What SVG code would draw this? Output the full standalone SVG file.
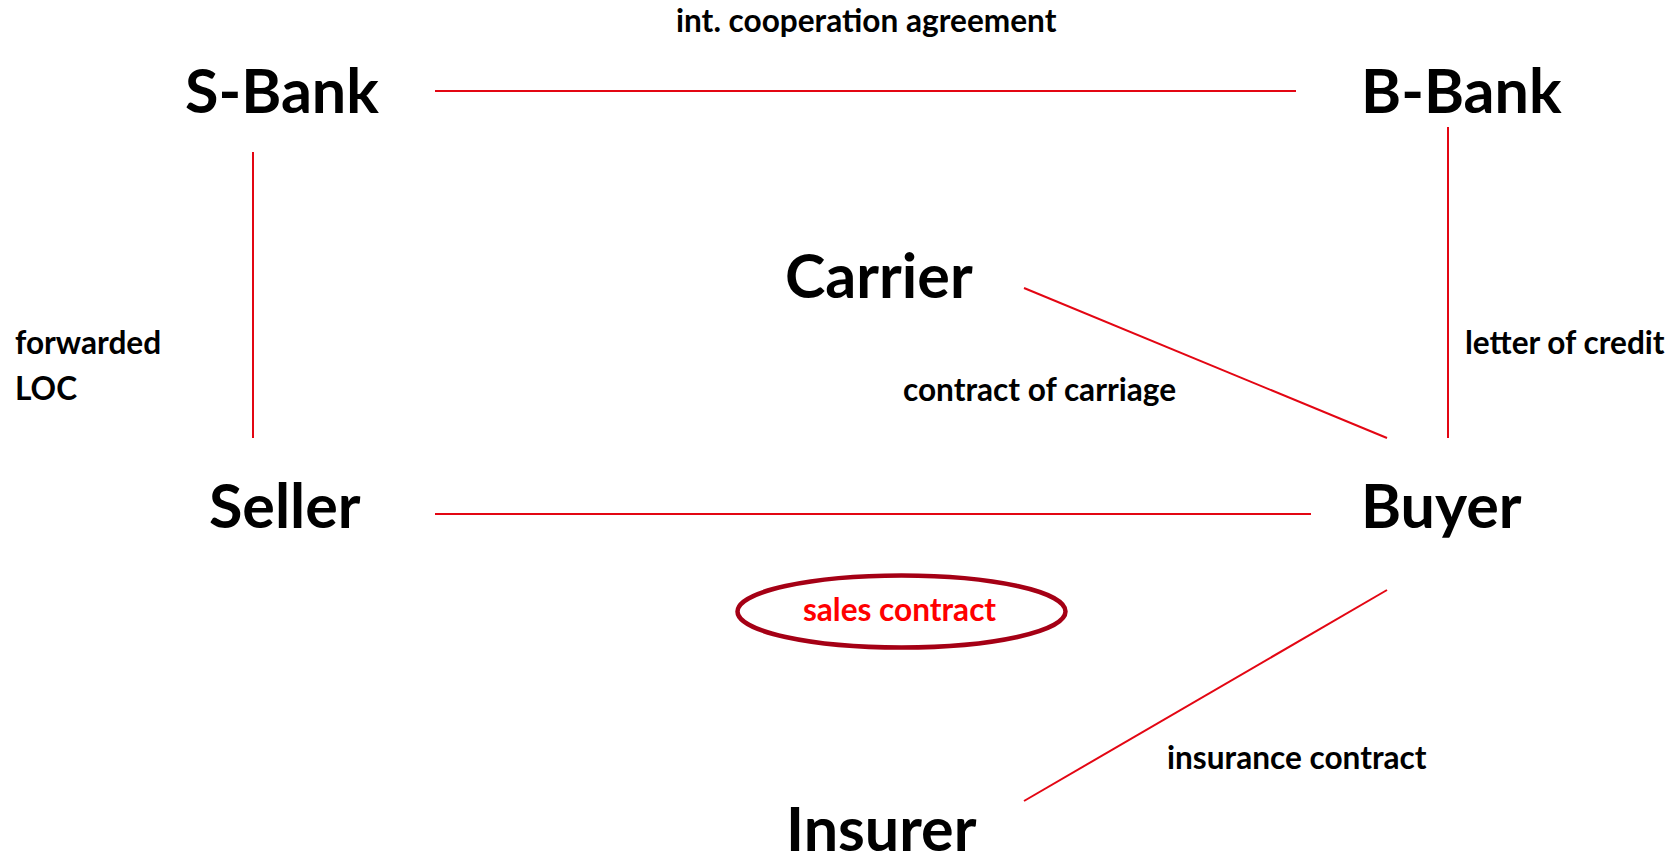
<svg xmlns="http://www.w3.org/2000/svg" width="1679" height="854" viewBox="0 0 1679 854">
<style>
.node{font-family:Lato,"Open Sans","Liberation Sans",sans-serif;font-weight:700;font-size:61px;fill:#000}
.lbl{font-family:Lato,"Open Sans","Liberation Sans",sans-serif;font-weight:700;font-size:31.6px;fill:#000}
.red{fill:#ff0000}
.conn line{stroke:#e30613;stroke-width:2;fill:none}
</style>
<rect width="1679" height="854" fill="#fff"/>
<g id="connectors" class="conn">
<line x1="435" y1="91" x2="1296" y2="91"/>
<line x1="253" y1="152" x2="253" y2="438"/>
<line x1="1448" y1="127" x2="1448" y2="438"/>
<line x1="1024" y1="288" x2="1387" y2="438"/>
<line x1="435" y1="514" x2="1311" y2="514"/>
<line x1="1387" y1="590" x2="1024" y2="801"/>
</g>
<g id="labels">
<text class="lbl" x="676" y="32">int. cooperation agreement</text>
<text class="lbl" x="15" y="354">forwarded</text>
<text class="lbl" x="15" y="400">LOC</text>
<text class="lbl" x="1465" y="354">letter of credit</text>
<text class="lbl" x="903" y="401">contract of carriage</text>
<text class="lbl" x="1167" y="769">insurance contract</text>
</g>
<g id="sbank"><text class="node" x="185" y="113">S-Bank</text></g>
<g id="bbank"><text class="node" x="1361" y="113">B-Bank</text></g>
<g id="carrier"><text class="node" x="785" y="298">Carrier</text></g>
<g id="seller"><text class="node" x="209" y="528">Seller</text></g>
<g id="buyer"><text class="node" x="1361" y="528">Buyer</text></g>
<g id="insurer"><text class="node" x="786" y="851">Insurer</text></g>
<g id="sales-contract">
<ellipse cx="901.5" cy="611.5" rx="164" ry="36" fill="none" stroke="#a50015" stroke-width="4.5"/>
<text class="lbl red" x="899.5" y="621" text-anchor="middle">sales contract</text>
</g>
</svg>
